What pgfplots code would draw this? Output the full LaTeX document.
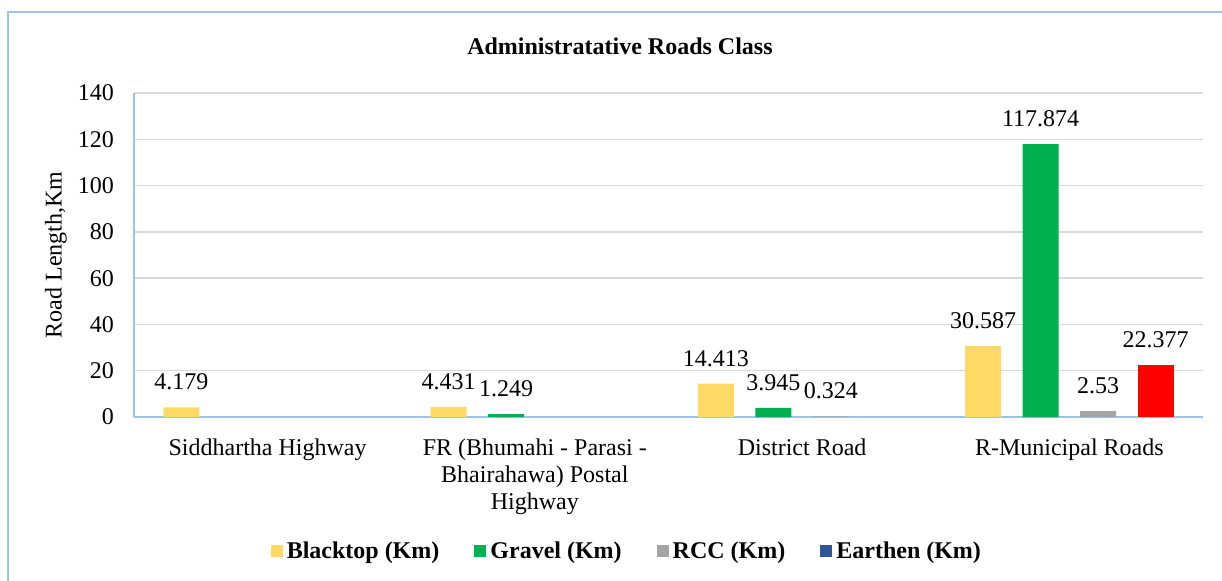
\documentclass[border=0pt]{standalone}
\usepackage{fontspec}
\setmainfont{Liberation Serif}
\usepackage{pgfplots}
\pgfplotsset{compat=1.18}
\usepackage{pgfplotstable}
\definecolor{cblack}{HTML}{FFD966}
\definecolor{cgravel}{HTML}{00B050}
\definecolor{crcc}{HTML}{A5A5A5}
\definecolor{cearth}{HTML}{2F5597}
\definecolor{cred}{HTML}{FF0000}
\definecolor{axiscol}{HTML}{9DC3E6}
\definecolor{gridcol}{HTML}{D9D9D9}
\pgfplotstableread{
x y lab
0 4.179 4.179
1 4.431 4.431
2 14.413 14.413
3 30.587 30.587
}\tblack
\pgfplotstableread{
x y lab
1 1.249 1.249
2 3.945 3.945
3 117.874 117.874
}\tgravel
\pgfplotstableread{
x y lab
2 0.324 0.324
3 2.53 2.53
}\trcc
\pgfplotstableread{
x y lab
3 22.377 22.377
}\tearth
\begin{document}
\begin{tikzpicture}
\useasboundingbox (-67pt,-81.5pt) rectangle (544pt,208.5pt);
\draw[axiscol, line width=0.9pt] (-63pt,-120pt) -- (-63pt,202.5pt) -- (620pt,202.5pt);
\begin{axis}[
  at={(0pt,0pt)}, anchor=south west,
  scale only axis, width=534.5pt, height=162pt,
  xmin=-0.5, xmax=3.5, ymin=0, ymax=140,
  ytick={0,20,...,140},
  xtick={0,1,2,3},
  xticklabels={Siddhartha Highway, {FR (Bhumahi - Parasi -\\Bhairahawa) Postal\\Highway}, District Road, R-Municipal Roads},
  xticklabel style={align=center, font=\fontsize{12}{13.5}\selectfont, yshift=-3.3pt},
  yticklabel style={font=\fontsize{12}{14}\selectfont, xshift=-6.5pt},
  /pgf/number format/assume math mode=true,
  ybar=10.75pt, bar width=18pt,
  axis x line*=bottom, axis y line*=left,
  axis line style={draw=axiscol, line width=0.75pt, -},
  ymajorgrids, grid style={draw=gridcol, line width=0.75pt},
  tick style={draw=none},
  ylabel={Road Length,Km},
  ylabel style={at={(axis description cs:-0.073,0.5)}, anchor=center, font=\fontsize{12}{14}\selectfont},
  title={Administratative Roads Class},
  title style={at={(axis description cs:0.4546,1.108)}, anchor=center, font=\bfseries\fontsize{12}{14}\selectfont},
  nodes near coords,
  point meta=explicit symbolic,
  every node near coord/.append style={font=\fontsize{12}{14}\selectfont, text=black, yshift=5pt},
  legend columns=4,
  legend style={at={(axis description cs:0.462,-0.415)}, anchor=center, draw=none,
    font=\bfseries\fontsize{12}{14}\selectfont,
    /tikz/every even column/.append style={column sep=15.5pt}},
]
\addplot[fill=cblack, draw=none, legend image code/.code={\fill[cblack] (0pt,-3pt) rectangle (6pt,3pt);}] table[x=x,y=y,meta=lab] {\tblack};
\addlegendentry{Blacktop (Km)}
\addplot[fill=cgravel, draw=none, legend image code/.code={\fill[cgravel] (0pt,-3pt) rectangle (6pt,3pt);}] table[x=x,y=y,meta=lab] {\tgravel};
\addlegendentry{Gravel (Km)}
\addplot[fill=crcc, draw=none, legend image code/.code={\fill[crcc] (0pt,-3pt) rectangle (6pt,3pt);}] table[x=x,y=y,meta=lab] {\trcc};
\addlegendentry{RCC (Km)}
\addplot[fill=cred, draw=none, legend image code/.code={\fill[cearth] (0pt,-3pt) rectangle (6pt,3pt);}] table[x=x,y=y,meta=lab] {\tearth};
\addlegendentry{Earthen (Km)}
\end{axis}
\end{tikzpicture}
\end{document}
